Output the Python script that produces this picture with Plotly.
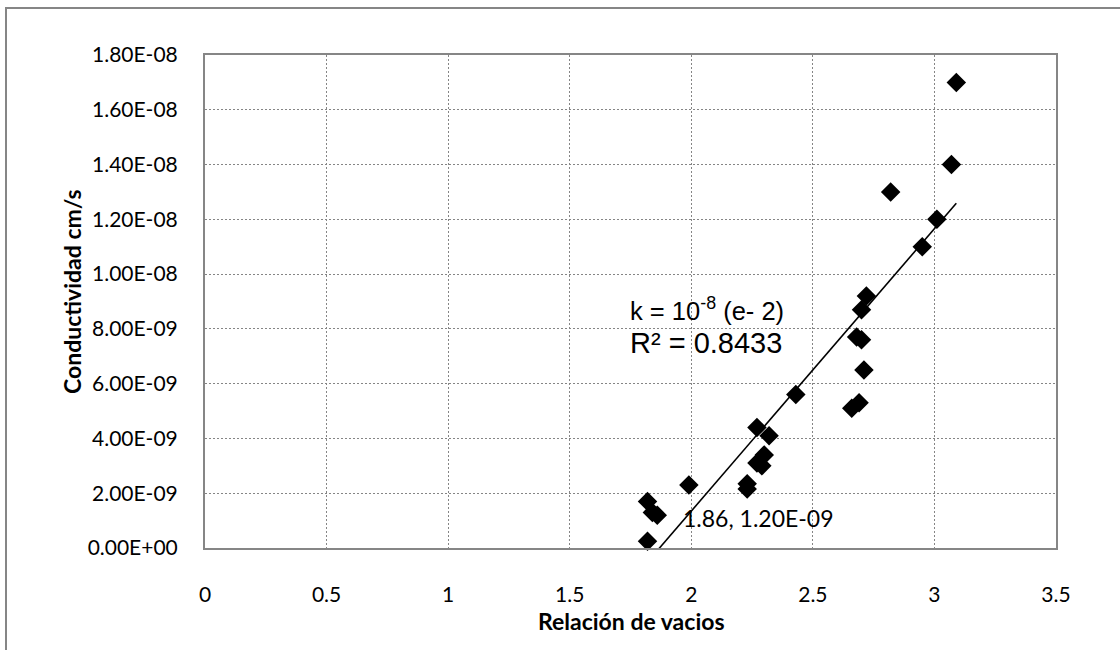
import numpy as np
import plotly.graph_objects as go

# Void ratio (e) vs. hydraulic conductivity (cm/s)
void_ratio = [1.82, 1.84, 1.86, 1.82, 1.99, 2.23, 2.23, 2.27, 2.29, 2.30,
              2.27, 2.32, 2.43, 2.66, 2.69, 2.71, 2.68, 2.70, 2.70, 2.72,
              2.82, 2.95, 3.01, 3.07, 3.09]
conductivity = [1.7e-9, 1.3e-9, 1.2e-9, 0.25e-9, 2.3e-9, 2.35e-9, 2.15e-9, 3.1e-9, 3.0e-9, 3.4e-9,
                4.4e-9, 4.1e-9, 5.6e-9, 5.1e-9, 5.3e-9, 6.5e-9, 7.7e-9, 7.6e-9, 8.7e-9, 9.2e-9,
                13.0e-9, 11.0e-9, 12.0e-9, 14.0e-9, 17.0e-9]

x_ticks = [0, 0.5, 1, 1.5, 2, 2.5, 3, 3.5]
x_tick_labels = ["0", "0.5", "1", "1.5", "2", "2.5", "3", "3.5"]
y_ticks = [0, 2e-9, 4e-9, 6e-9, 8e-9, 10e-9, 12e-9, 14e-9, 16e-9, 18e-9]
y_tick_labels = ["0.00E+00", "2.00E-09", "4.00E-09", "6.00E-09", "8.00E-09",
                 "1.00E-08", "1.20E-08", "1.40E-08", "1.60E-08", "1.80E-08"]

labelled_point = (1.86, 1.2e-9)
equation_text = "k = 10<sup>-8</sup> (e- 2)"
r_squared_text = "R² = 0.8433"

x = np.array(void_ratio)
y = np.array(conductivity)

# linear trend over the data range
slope, intercept = np.polyfit(x, y, 1)
trend_x = np.array([x.min(), x.max()])
trend_y = slope * trend_x + intercept

# figure geometry (pixels)
W, H = 1120, 650
L, R, T, B = 205, 64, 55, 102
pw, ph = W - L - R, H - T - B

tick_font = dict(family="Lato, sans-serif", size=21, color="#000000")
title_font = dict(family="Lato, sans-serif", size=23, color="#000000")
axis_gray = "#868686"
grid_gray = "#858585"

fig = go.Figure()

fig.add_trace(go.Scatter(
    x=trend_x, y=trend_y, mode="lines",
    line=dict(color="#000000", width=1.6),
    hoverinfo="skip", showlegend=False,
))

fig.add_trace(go.Scatter(
    x=void_ratio, y=conductivity, mode="markers",
    marker=dict(symbol="diamond", size=15, color="#000000", line=dict(width=0)),
    showlegend=False, cliponaxis=False,
))

fig.update_layout(
    width=W, height=H,
    margin=dict(l=L, r=R, t=T, b=B, pad=0),
    paper_bgcolor="#ffffff",
    plot_bgcolor="#ffffff",
    xaxis=dict(
        range=[0, 3.5], tickvals=x_ticks, ticktext=x_tick_labels,
        showgrid=True, gridcolor=grid_gray, gridwidth=1.3, griddash="2px,2px",
        showline=True, linecolor=axis_gray, linewidth=2, mirror=True,
        ticks="", ticklabelstandoff=27, tickfont=tick_font,
        zeroline=False, fixedrange=True,
    ),
    yaxis=dict(
        range=[0, 1.8e-8], tickvals=y_ticks, ticktext=y_tick_labels,
        showgrid=True, gridcolor=grid_gray, gridwidth=1.3, griddash="2px,2px",
        showline=True, linecolor=axis_gray, linewidth=2, mirror=True,
        ticks="", ticklabelstandoff=21, tickfont=tick_font,
        zeroline=False, fixedrange=True,
    ),
)

def px_to_paper_x(px):
    return (px - L) / pw

def px_to_paper_y(py):
    return (H - B - py) / ph

# outer chart frame
fig.add_shape(
    type="rect", xref="paper", yref="paper",
    x0=px_to_paper_x(6), x1=px_to_paper_x(W + 10),
    y0=px_to_paper_y(H + 10), y1=px_to_paper_y(8),
    line=dict(color=axis_gray, width=2), fillcolor="rgba(0,0,0,0)",
    layer="below",
)

annotations = [
    # axis titles
    dict(text="<b>Relación de vacios</b>", xref="paper", yref="paper",
         x=px_to_paper_x(631), y=px_to_paper_y(621), showarrow=False,
         xanchor="center", yanchor="middle", font=title_font),
    dict(text="<b>Conductividad cm/s</b>", xref="paper", yref="paper",
         x=px_to_paper_x(72), y=px_to_paper_y(292), showarrow=False,
         textangle=-90, xanchor="center", yanchor="middle", font=title_font),
    # trend equation and fit quality
    dict(text=equation_text, x=2.065, y=8.72e-9, showarrow=False,
         xanchor="center", yanchor="middle",
         font=dict(family="Liberation Sans, Arial, sans-serif", size=25.5, color="#000000")),
    dict(text=r_squared_text, x=2.062, y=7.48e-9, showarrow=False,
         xanchor="center", yanchor="middle",
         font=dict(family="Liberation Sans, Arial, sans-serif", size=29, color="#000000")),
    # data label on one point
    dict(text=f"{labelled_point[0]:.2f}, {labelled_point[1]:.2E}",
         x=labelled_point[0], y=labelled_point[1], showarrow=False,
         xanchor="left", yanchor="middle", xshift=24, yshift=-3,
         font=dict(family="Lato, sans-serif", size=23, color="#000000")),
]
fig.update_layout(annotations=annotations)

fig.write_html("out.html", config={"displayModeBar": False})
